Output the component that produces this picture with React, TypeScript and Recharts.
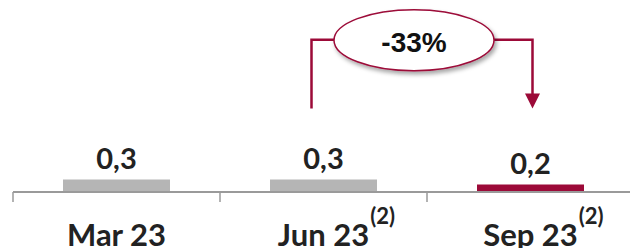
import { Bar, BarChart, Cell, LabelList, ReferenceLine, XAxis, YAxis } from "recharts";

const categories = ["Mar 23", "Jun 23", "Sep 23"];
const footnotes = ["", "(2)", "(2)"];
const values = [0.3, 0.3, 0.18];
const changeLabel = "-33%";

// annotation levels in data units (y axis domain 0..4.6)
const bracketBase = 2.0;
const bracketTop = 3.65;

const GREY = "#b5b5b5";
const CRIMSON = "#9c0a38";
const AXIS = "#9a9a9a";
const TEXT = "#222222";

const data = categories.map((month, i) => ({ month, value: values[i] }));

let measureCtx: CanvasRenderingContext2D | null = null;
function textWidth(text: string, font: string) {
  if (!measureCtx) measureCtx = document.createElement("canvas").getContext("2d");
  if (!measureCtx) return text.length * 15;
  measureCtx.font = font;
  return measureCtx.measureText(text).width;
}

function CategoryTick(props: any) {
  const { x, y, payload } = props;
  const half = payload?.offset ?? 0;
  const idx = categories.indexOf(payload.value);
  const note = footnotes[idx];
  const w = textWidth(payload.value, "bold 31px Lato");

  return (
    <g>
      <line x1={x - half} x2={x - half} y1={y} y2={y + 10} stroke={AXIS} strokeWidth={1.5} />
      <text
        x={x}
        y={y + 54}
        textAnchor="middle"
        fontFamily="Lato"
        fontWeight={700}
        fontSize={31}
        fill={TEXT}
      >
        {payload.value}
      </text>
      {note && (
        <text
          x={x + w / 2 + 1}
          y={y + 32}
          fontFamily="Lato"
          fontWeight={700}
          fontSize={22}
          fill={TEXT}
        >
          {note}
        </text>
      )}
    </g>
  );
}

function ChangeBracket(props: any) {
  const { x1, y1, x2, y2 } = props;
  const left = x1 - 12;
  const right = x2 + 2;
  const cx = (x1 + x2) / 2 - 13;
  const rx = 80;
  const ry = 30.5;

  return (
    <g>
      <defs>
        <filter id="ellipseShadow" x="-20%" y="-30%" width="140%" height="170%">
          <feDropShadow dx="2" dy="3" stdDeviation="2" floodColor="#000" floodOpacity="0.35" />
        </filter>
      </defs>
      <path
        d={`M${left},${y1} V${y2} H${cx - rx}`}
        fill="none"
        stroke={CRIMSON}
        strokeWidth={2.5}
      />
      <path
        d={`M${cx + rx},${y2} H${right} V${y1 - 13}`}
        fill="none"
        stroke={CRIMSON}
        strokeWidth={2.5}
      />
      <path d={`M${right - 7.5},${y1 - 15} L${right + 7.5},${y1 - 15} L${right},${y1} Z`} fill={CRIMSON} />
      <ellipse
        cx={cx}
        cy={y2 + 0.5}
        rx={rx}
        ry={ry}
        fill="#fff"
        stroke={CRIMSON}
        strokeWidth={1.5}
        filter="url(#ellipseShadow)"
      />
      <text
        x={cx}
        y={y2 + 12}
        textAnchor="middle"
        fontFamily="Liberation Sans"
        fontWeight={700}
        fontSize={28}
        fill="#111"
      >
        {changeLabel}
      </text>
    </g>
  );
}

export default function App() {
  return (
    <div
      style={{
        position: "absolute",
        left: 0,
        top: 0,
        width: 630,
        height: 248,
        overflow: "hidden",
        background: "#fff",
      }}
    >
      <BarChart width={634} height={248} data={data} margin={{ top: 0, right: 0, left: 13, bottom: 0 }}>
        <YAxis hide domain={[0, 4.6]} />
        <XAxis
          dataKey="month"
          height={56}
          interval={0}
          tickSize={0}
          tickMargin={0}
          tickLine={false}
          axisLine={{ stroke: AXIS, strokeWidth: 2 }}
          tick={<CategoryTick />}
        />
        <Bar dataKey="value" barSize={107} isAnimationActive={false}>
          {data.map((d, i) => (
            <Cell key={d.month} fill={i === data.length - 1 ? CRIMSON : GREY} />
          ))}
          <LabelList
            dataKey="value"
            position="top"
            offset={10}
            formatter={(v: any) => Number(v).toFixed(1).replace(".", ",")}
            style={{ fontFamily: "Lato", fontWeight: 700, fontSize: 29, fill: TEXT }}
          />
        </Bar>
        <ReferenceLine
          segment={[
            { x: categories[1], y: bracketBase },
            { x: categories[2], y: bracketTop },
          ]}
          shape={<ChangeBracket />}
        />
      </BarChart>
    </div>
  );
}
